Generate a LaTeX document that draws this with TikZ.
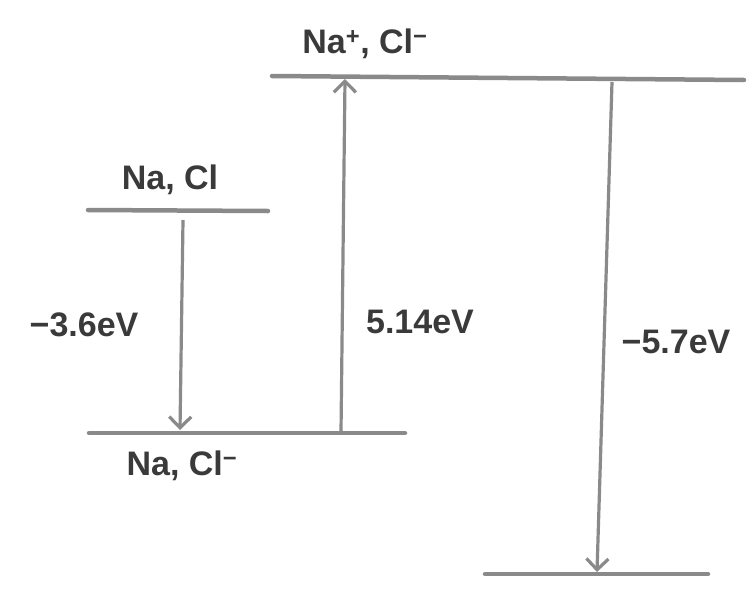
\documentclass[tikz,border=0pt]{standalone}
\usepackage{fontspec}
\setmainfont{Liberation Sans}
\usetikzlibrary{arrows.meta}
\definecolor{linegray}{HTML}{8A8A8A}
\definecolor{textgray}{HTML}{3A3A3A}
\tikzset{
  level/.style={draw=linegray, line width=4.5pt, line cap=round},
  trans/.style={draw=linegray, line width=3.2pt, -{Straight Barb[length=11pt,width=22pt,line width=3.2pt]}},
  lbl/.style={text=textgray, font=\fontsize{34}{40}\selectfont\bfseries, inner sep=0pt},
}
\begin{document}
\begin{tikzpicture}[x=1pt,y=-1pt]
\useasboundingbox (0,0) rectangle (752,592);
% level end points
\coordinate (t1) at (272,76);
\coordinate (t2) at (744,80);
\coordinate (u1) at (88,210);
\coordinate (u2) at (268,211);
\coordinate (m1) at (89,433);
\coordinate (m2) at (405,433);
\coordinate (b1) at (485,574);
\coordinate (b2) at (708,574);
\draw[level] (t1) -- (t2);
\draw[level] (u1) -- (u2);
\draw[level] (m1) -- (m2);
\draw[level] (b1) -- (b2);
% arrow end points
\coordinate (a1s) at (183,220);
\coordinate (a1e) at (180,430);
\coordinate (a2s) at (341,432);
\coordinate (a2e) at (345,79);
\coordinate (a3s) at (612,82);
\coordinate (a3e) at (597,572);
\draw[trans] (a1s) -- (a1e);
\draw[trans] (a2s) -- (a2e);
\draw[trans] (a3s) -- (a3e);
% labels
\node[lbl] (ltop) at (365,44) {Na\textsuperscript{+}, Cl\textsuperscript{−}};
\node[lbl] (lup) at (170,180) {Na, Cl};
\node[lbl] (lmid) at (182,466) {Na, Cl\textsuperscript{−}};
\node[lbl] (e1) at (84,325) {−3.6eV};
\node[lbl] (e2) at (420,322) {5.14eV};
\node[lbl] (e3) at (676,342) {−5.7eV};
\end{tikzpicture}
\end{document}
